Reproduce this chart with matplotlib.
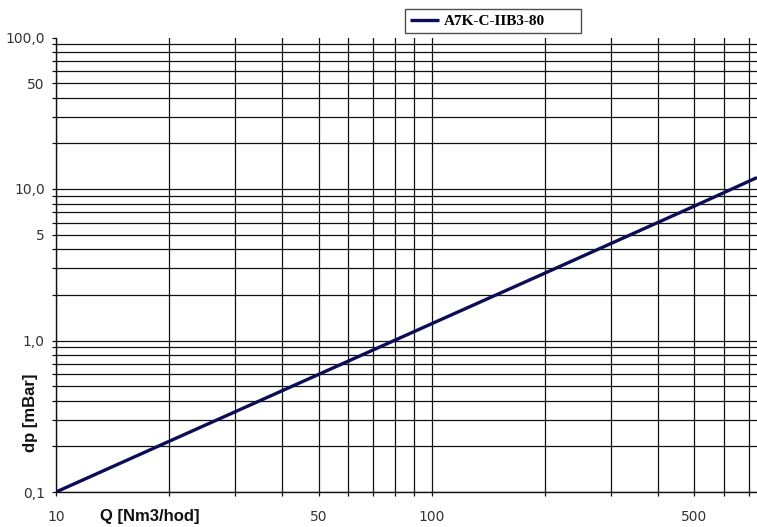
import matplotlib
matplotlib.use("Agg")
import matplotlib.pyplot as plt
from matplotlib.ticker import FixedLocator, NullFormatter, FixedFormatter

# data
q_values = [10, 20, 50, 100, 200, 500, 735]
dp_values = [0.1, 0.216, 0.597, 1.29, 2.78, 7.7, 11.9]
series_name = "A7K-C-IIB3-80"

y_major = [0.1, 1, 10, 100]
y_major_labels = ["0,1", "1,0", "10,0", "100,0"]
y_minor = [m * d for d in (0.1, 1, 10) for m in range(2, 10)]
y_minor_labels = {5: "5", 50: "50"}

x_major = [10, 50, 100, 500]
x_major_labels = ["10", "50", "100", "500"]
x_minor = [m * d for d in (10, 100) for m in range(2, 10)]

fig = plt.figure(figsize=(7.57, 5.27), dpi=100)
ax = fig.add_axes([56 / 757, 1 - 492 / 527, 1 - 56 / 757, (492 - 37.5) / 527])
ax.set_xscale("log")
ax.set_yscale("log")
ax.set_xlim(10, 735)
ax.set_ylim(0.1, 100)

line, = ax.plot(q_values, dp_values, color="#0d0d55", lw=2.4, label=series_name,
                solid_capstyle="butt", zorder=5)

ax.yaxis.set_major_locator(FixedLocator(y_major))
ax.yaxis.set_major_formatter(FixedFormatter(y_major_labels))
ax.yaxis.set_minor_locator(FixedLocator(y_minor))
ax.yaxis.set_minor_formatter(FixedFormatter(
    [y_minor_labels.get(int(round(v)) if v >= 1 else -1, "") for v in y_minor]))
ax.xaxis.set_major_locator(FixedLocator(x_major))
ax.xaxis.set_major_formatter(FixedFormatter(x_major_labels))
ax.xaxis.set_minor_locator(FixedLocator(x_minor))
ax.xaxis.set_minor_formatter(NullFormatter())

ax.grid(True, which="both", color="#111111", lw=0.9)
for gl, v in zip(ax.yaxis.get_gridlines(), y_major):
    if v >= 100:
        gl.set_visible(False)

for s in ("top", "right"):
    ax.spines[s].set_visible(False)
for s in ("left", "bottom"):
    ax.spines[s].set_color("#111111")
    ax.spines[s].set_linewidth(1.0)

ax.tick_params(axis="both", which="both", direction="out", length=3, width=0.9,
               color="#111111", labelcolor="#333333", labelsize=10)
ax.tick_params(axis="x", which="both", pad=10)
ax.tick_params(axis="y", which="both", pad=5)
for lab in ax.get_xticklabels() + ax.get_yticklabels():
    lab.set_fontfamily("DejaVu Sans")

fig.text(100 / 757, 1 - 517 / 527, "Q [Nm3/hod]", fontsize=12, fontweight="bold",
         family="Liberation Sans", ha="left", va="center", color="#111111")
fig.text(30 / 757, 1 - 413 / 527, "dp [mBar]", fontsize=12, fontweight="bold",
         family="Liberation Sans", ha="center", va="center", rotation=90, color="#111111")

leg = fig.legend(handles=[line], loc="upper left", mode="expand",
                 bbox_to_anchor=(405 / 757, 1 - 36 / 527, 176 / 757, 27 / 527),
                 frameon=True, fancybox=False, handlelength=1.9, handletextpad=0.3,
                 borderpad=0.35, borderaxespad=0,
                 prop={"family": "Liberation Serif", "weight": "bold", "size": 11})
leg.get_frame().set_edgecolor("#222222")
leg.get_frame().set_linewidth(1.0)

fig.savefig("out.png", dpi=100)
